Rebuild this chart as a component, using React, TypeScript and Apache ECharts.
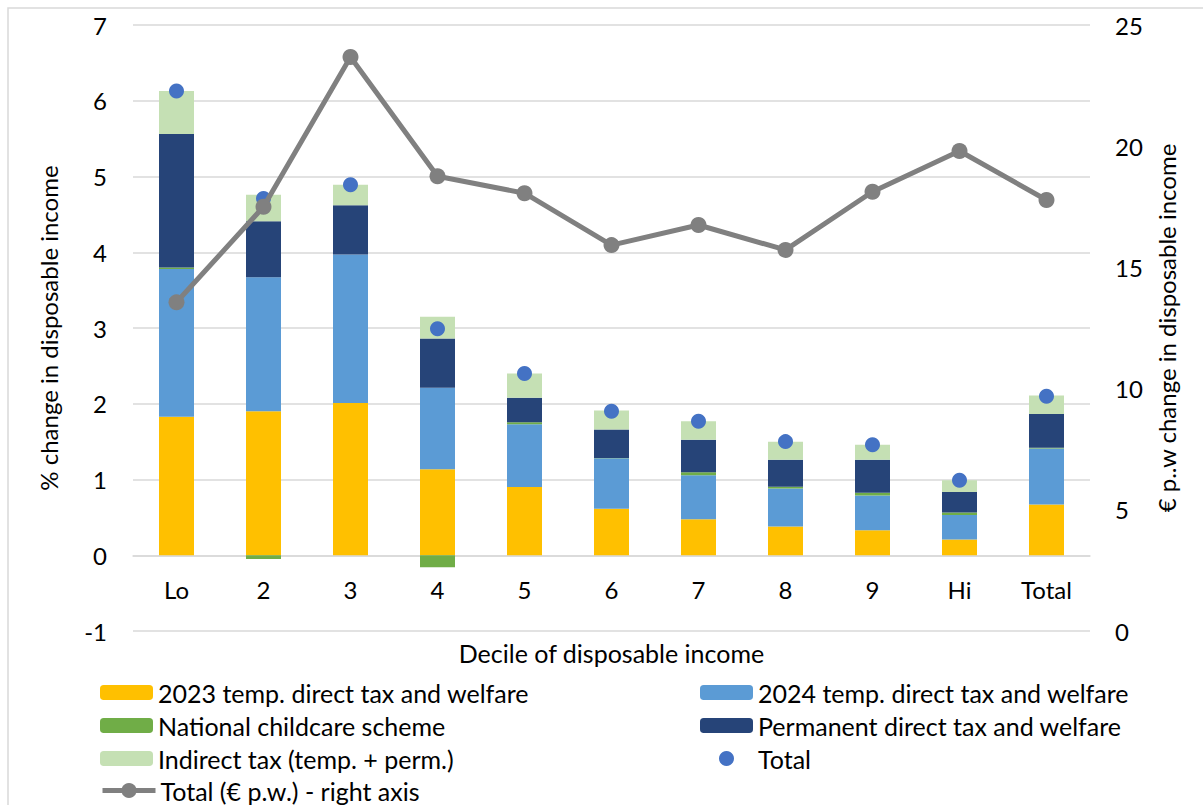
import React, { useEffect, useRef } from "react";
import * as echarts from "echarts";

// Deciles of disposable income
const categories = ["Lo", "2", "3", "4", "5", "6", "7", "8", "9", "Hi", "Total"];

// % change in disposable income by component
const temp2023 = [1.83, 1.9, 2.01, 1.135, 0.9, 0.615, 0.475, 0.38, 0.33, 0.207, 0.67];
const temp2024 = [1.95, 1.77, 1.96, 1.075, 0.83, 0.665, 0.58, 0.5, 0.46, 0.323, 0.74];
const childcare = [0.02, -0.05, 0, -0.16, 0.025, 0.005, 0.04, 0.025, 0.035, 0.033, 0.01];
const permanent = [1.76, 0.74, 0.65, 0.65, 0.325, 0.375, 0.43, 0.355, 0.435, 0.273, 0.446];
const indirect = [0.57, 0.35, 0.27, 0.29, 0.32, 0.25, 0.245, 0.24, 0.2, 0.154, 0.244];
const totalPct = [6.13, 4.71, 4.89, 2.99, 2.4, 1.9, 1.77, 1.5, 1.46, 0.99, 2.1];

// € per week change in disposable income (right axis)
const totalEuro = [13.56, 17.5, 23.68, 18.76, 18.06, 15.92, 16.75, 15.72, 18.12, 19.8, 17.78];

const S_2023 = "2023 temp. direct tax and welfare";
const S_2024 = "2024 temp. direct tax and welfare";
const S_CHILD = "National childcare scheme";
const S_PERM = "Permanent direct tax and welfare";
const S_IND = "Indirect tax (temp. + perm.)";
const S_TOTAL = "Total";
const S_EURO = "Total (€ p.w.) - right axis";

const FONT = "Lato, 'Open Sans', sans-serif";
const FS = 24;
const FS_TEXT = 25;

// legend grid: two columns, four rows (row read left to right)
const legendCells: [string, number, number][] = [
  [S_2023, 100, 680],
  [S_2024, 700, 680],
  [S_CHILD, 100, 713],
  [S_PERM, 700, 713],
  [S_IND, 100, 746],
  [S_TOTAL, 719, 746],
  [S_EURO, 100, 778],
];

export default function App() {
  const ref = useRef<HTMLDivElement>(null);

  useEffect(() => {
    if (!ref.current) return;
    const chart = echarts.init(ref.current, undefined, { renderer: "svg" });

    const barSeries = (name: string, data: number[], color: string) => ({
      name,
      type: "bar",
      stack: "pct",
      data,
      barWidth: 35,
      itemStyle: { color },
      yAxisIndex: 0,
    });

    const legends = legendCells.map(([name, left, top]) => ({
      left,
      top,
      padding: 0,
      orient: "horizontal",
      itemWidth: 53,
      itemHeight: name === S_EURO ? 19 : 15,
      textStyle: { fontSize: FS_TEXT, fontFamily: FONT, color: "#000" },
      lineStyle: name === S_EURO ? { width: 5, color: "#808080" } : undefined,
      data: [name],
    }));

    chart.setOption({
      animation: false,
      textStyle: { fontFamily: FONT, color: "#000" },
      grid: { left: 133, right: 113, top: 25, bottom: 174 },
      graphic: [
        {
          type: "rect",
          shape: { x: 8, y: 8, width: 1300, height: 900 },
          style: { fill: "none", stroke: "#d9d9d9", lineWidth: 1.5 },
          silent: true,
        },
      ],
      legend: legends,
      xAxis: {
        type: "category",
        data: categories,
        position: "bottom",
        // category line sits on the zero line of the left axis (one unit above the bottom)
        offset: -75.75,
        axisLine: { onZero: false, lineStyle: { color: "#d9d9d9", width: 1.5 } },
        axisTick: { show: false },
        axisLabel: { fontSize: FS, color: "#000", margin: 22, fontFamily: FONT },
        name: "Decile of disposable income",
        nameLocation: "middle",
        nameGap: 85,
        nameTextStyle: { fontSize: FS_TEXT, color: "#000", fontFamily: FONT },
      },
      yAxis: [
        {
          type: "value",
          min: -1,
          max: 7,
          interval: 1,
          axisLine: { show: false },
          axisTick: { show: false },
          axisLabel: { fontSize: FS, color: "#000", margin: 26, fontFamily: FONT },
          splitLine: { lineStyle: { color: "#d9d9d9", width: 1.5 } },
          name: "% change in disposable income",
          nameLocation: "middle",
          nameRotate: 90,
          nameGap: 73,
          nameTextStyle: { fontSize: FS, color: "#000", fontFamily: FONT },
        },
        {
          type: "value",
          position: "right",
          min: 0,
          max: 25,
          interval: 5,
          axisLine: { show: false },
          axisTick: { show: false },
          splitLine: { show: false },
          axisLabel: { fontSize: FS, color: "#000", margin: 25, fontFamily: FONT },
          name: "€ p..w change in disposable income",
          nameLocation: "middle",
          nameRotate: 90,
          nameGap: 64,
          nameTextStyle: { fontSize: FS, color: "#000", fontFamily: FONT },
        },
      ],
      series: [
        barSeries(S_2023, temp2023, "#FFC000"),
        barSeries(S_2024, temp2024, "#5B9BD5"),
        barSeries(S_CHILD, childcare, "#70AD47"),
        barSeries(S_PERM, permanent, "#264478"),
        barSeries(S_IND, indirect, "#C5E0B4"),
        {
          name: S_TOTAL,
          type: "scatter",
          data: totalPct,
          yAxisIndex: 0,
          symbol: "circle",
          symbolSize: 15,
          itemStyle: { color: "#4472C4", opacity: 1 },
          z: 3,
        },
        {
          name: S_EURO,
          type: "line",
          data: totalEuro,
          yAxisIndex: 1,
          symbol: "circle",
          symbolSize: 16,
          lineStyle: { color: "#808080", width: 5 },
          itemStyle: { color: "#808080" },
          z: 4,
        },
      ],
    });

    return () => chart.dispose();
  }, []);

  return (
    <div
      ref={ref}
      style={{ position: "fixed", left: 0, top: 0, width: 1203, height: 805, background: "#fff" }}
    />
  );
}
